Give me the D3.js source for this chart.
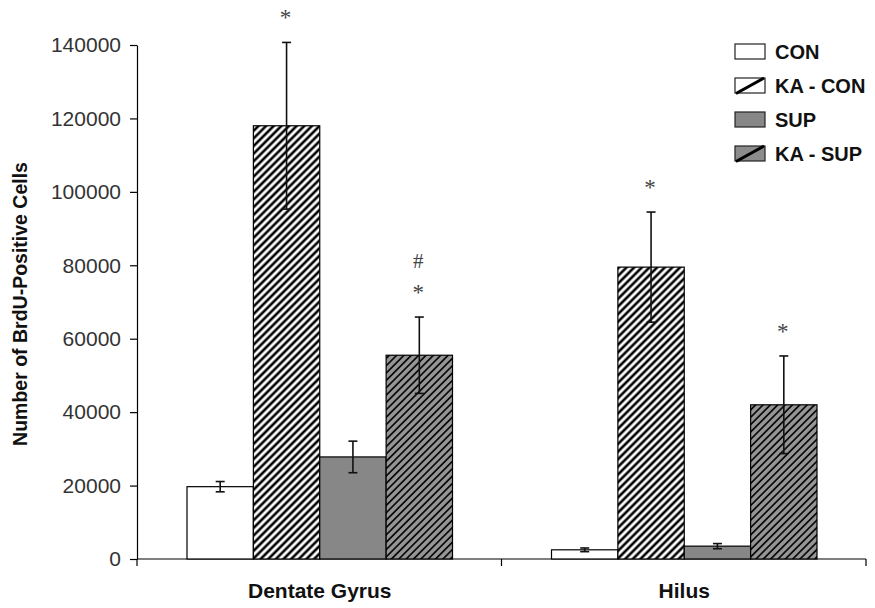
<!DOCTYPE html>
<html>
<head>
<meta charset="utf-8">
<script src="https://cdn.jsdelivr.net/npm/d3@7"></script>
<style>
  body { margin: 0; background: #fff; }
  svg { font-family: "Liberation Sans", Arial, sans-serif; }
</style>
</head>
<body>
<svg id="chart" width="875" height="608"></svg>
<script>
// data
const regions = ["Dentate Gyrus", "Hilus"];
const groups = ["CON", "KA - CON", "SUP", "KA - SUP"];
const conValues = [19700, 2500];
const kaConValues = [118000, 79500];
const supValues = [27800, 3500];
const kaSupValues = [55500, 42000];
const conErr = [1400, 500];
const kaConErr = [22700, 15000];
const supErr = [4300, 700];
const kaSupErr = [10400, 13300];
// significance marks above the bars (lines stacked upward)
const marks = [
  [[], ["*"], [], ["*", "#"]],
  [[], ["*"], [], ["*"]]
];
const yTicks = [0, 20000, 40000, 60000, 80000, 100000, 120000, 140000];

const values = [conValues, kaConValues, supValues, kaSupValues];
const errs = [conErr, kaConErr, supErr, kaSupErr];

const svg = d3.select("#chart");
const margin = { top: 45, right: 9, bottom: 49, left: 137 };
const width = 875 - margin.left - margin.right;
const height = 608 - margin.top - margin.bottom;

// hatch patterns
const defs = svg.append("defs");
function hatch(id, bg, sw, size) {
  const p = defs.append("pattern")
    .attr("id", id)
    .attr("patternUnits", "userSpaceOnUse")
    .attr("width", size).attr("height", size)
    .attr("patternTransform", "rotate(45)");
  p.append("rect").attr("width", size).attr("height", size).attr("fill", bg);
  p.append("line")
    .attr("x1", size / 2).attr("y1", 0)
    .attr("x2", size / 2).attr("y2", size)
    .attr("stroke", "#000").attr("stroke-width", sw);
}
hatch("hatchWhite", "#fff", 2.6, 5.4);
hatch("hatchGray", "#959595", 1.6, 5.2);

const fills = ["#fff", "url(#hatchWhite)", "#878787", "url(#hatchGray)"];
const legendFills = ["#fff", "#fff", "#878787", "#8c8c8c"];

const g = svg.append("g").attr("transform", `translate(${margin.left},${margin.top})`);

const x0 = d3.scaleBand().domain(regions).range([0, width]).paddingInner(0).paddingOuter(0);
const x1 = d3.scaleBand().domain(groups).range([50, x0.bandwidth() - 49]).padding(0);
const y = d3.scaleLinear().domain([0, 140000]).range([height, 0]);

// y axis
const yAxis = g.append("g")
  .call(d3.axisLeft(y).tickValues(yTicks).tickFormat(d3.format("d")).tickSize(7).tickSizeOuter(0));
yAxis.select(".domain").attr("stroke", "#000").attr("stroke-width", 1.2);
yAxis.selectAll(".tick line").attr("stroke", "#000").attr("stroke-width", 1.2);
yAxis.selectAll(".tick text")
  .attr("fill", "#333").attr("font-size", 21).attr("x", -16)
  .attr("font-family", "Liberation Sans, Arial, sans-serif");

// x axis
const xAxis = g.append("g").attr("transform", `translate(0,${height})`);
xAxis.append("line").attr("x1", 0).attr("x2", width).attr("stroke", "#000").attr("stroke-width", 1.2);
xAxis.selectAll("line.sep")
  .data(regions)
  .join("line")
  .attr("class", "sep")
  .attr("x1", d => x0(d) + x0.bandwidth()).attr("x2", d => x0(d) + x0.bandwidth())
  .attr("y1", 0).attr("y2", 7)
  .attr("stroke", "#000").attr("stroke-width", 1.2);
xAxis.append("line").attr("x1", 0).attr("x2", 0).attr("y1", 0).attr("y2", 7)
  .attr("stroke", "#000").attr("stroke-width", 1.2);
xAxis.selectAll("text.cat")
  .data(regions)
  .join("text")
  .attr("class", "cat")
  .attr("x", d => x0(d) + x1(groups[1]) + x1.bandwidth())
  .attr("y", 39)
  .attr("text-anchor", "middle")
  .attr("font-weight", "bold")
  .attr("font-size", 21)
  .attr("fill", "#111")
  .text(d => d);

// bars
const regionG = g.selectAll("g.region")
  .data(regions)
  .join("g")
  .attr("class", "region")
  .attr("transform", d => `translate(${x0(d)},0)`);

regionG.each(function (r, ri) {
  const sel = d3.select(this);
  groups.forEach((grp, gi) => {
    const v = values[gi][ri];
    const e = errs[gi][ri];
    const bx = x1(grp);
    const cx = bx + x1.bandwidth() / 2;
    sel.append("rect")
      .attr("x", bx).attr("y", y(v))
      .attr("width", x1.bandwidth()).attr("height", y(0) - y(v))
      .attr("fill", fills[gi])
      .attr("stroke", "#000").attr("stroke-width", 1.2);
    // error bar
    const eb = sel.append("g").attr("stroke", "#111").attr("stroke-width", 1.6);
    eb.append("line").attr("x1", cx).attr("x2", cx).attr("y1", y(v + e)).attr("y2", y(v - e));
    [v + e, v - e].forEach(t => {
      eb.append("line").attr("x1", cx - 4.5).attr("x2", cx + 4.5).attr("y1", y(t)).attr("y2", y(t));
    });
    // significance marks
    marks[ri][gi].forEach((m, k) => {
      sel.append("text")
        .attr("x", cx - 1)
        .attr("y", y(v + e) - 17 - k * 32)
        .attr("text-anchor", "middle")
        .attr("font-family", "Liberation Serif, Times New Roman, serif")
        .attr("font-size", m === "*" ? 23 : 21)
        .attr("fill", "#444")
        .text(m);
    });
  });
});

// y axis title
svg.append("text")
  .attr("transform", "translate(27,304) rotate(-90)")
  .attr("text-anchor", "middle")
  .attr("font-weight", "bold")
  .attr("font-size", 19.5)
  .attr("fill", "#111")
  .text("Number of BrdU-Positive Cells");

// legend
const legend = svg.append("g").attr("transform", "translate(735,44)");
const rows = legend.selectAll("g")
  .data(groups)
  .join("g")
  .attr("transform", (d, i) => `translate(0,${i * 34})`);
rows.append("rect")
  .attr("width", 30).attr("height", 15)
  .attr("fill", (d, i) => legendFills[i])
  .attr("stroke", "#222").attr("stroke-width", 1.2);
rows.filter((d, i) => i % 2 === 1)
  .append("line")
  .attr("x1", 1).attr("y1", 15.5).attr("x2", 29).attr("y2", 0)
  .attr("stroke", "#000").attr("stroke-width", 3);
rows.append("text")
  .attr("x", 40).attr("y", 15)
  .attr("font-weight", "bold")
  .attr("font-size", 20)
  .attr("fill", "#111")
  .text(d => d);
</script>
</body>
</html>
